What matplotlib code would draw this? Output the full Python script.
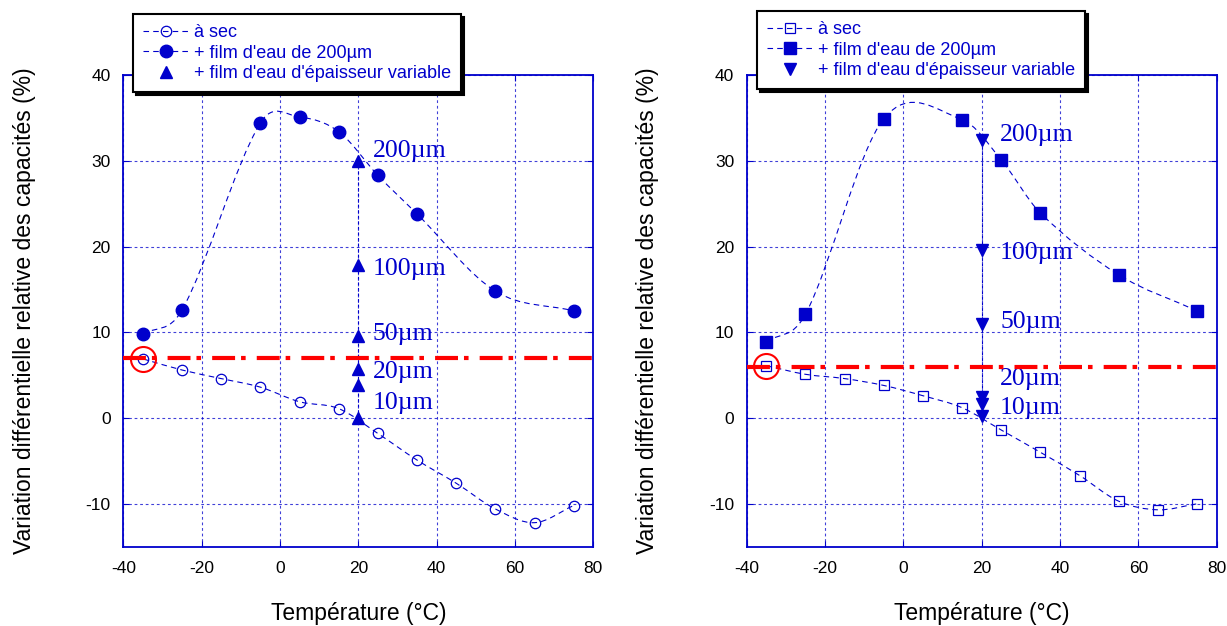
import numpy as np
import matplotlib
matplotlib.use('Agg')
import matplotlib.pyplot as plt
from matplotlib.path import Path
from matplotlib.patches import PathPatch
from matplotlib.lines import Line2D

plt.rcParams['font.family'] = ['Liberation Sans', 'DejaVu Sans']
plt.rcParams['lines.scale_dashes'] = False
plt.rcParams['axes.unicode_minus'] = False

BLUE = '#0000cc'

# --- données graphe de gauche (cercles / triangles vers le haut)
temp_sec_g = [-35, -25, -15, -5, 5, 15, 25, 35, 45, 55, 65, 75]
sec_g = [6.9, 5.6, 4.6, 3.6, 1.9, 1.1, -1.8, -4.9, -7.6, -10.6, -12.2, -10.2]
temp_film_g = [-35, -25, -5, 5, 15, 25, 35, 55, 75]
film_g = [9.8, 12.6, 34.4, 35.1, 33.4, 28.3, 23.8, 14.8, 12.5]
var_g = [0.0, 3.9, 5.7, 9.6, 17.8, 30.0]
seuil_g = 7.0
lbl_y_g = [1.8, 5.4, 9.8, 17.4, 31.1]

# --- données graphe de droite (carrés / triangles vers le bas)
temp_sec_d = [-35, -25, -15, -5, 5, 15, 25, 35, 45, 55, 65, 75]
sec_d = [6.1, 5.1, 4.6, 3.8, 2.6, 1.2, -1.4, -4.0, -6.7, -9.7, -10.7, -10.0]
temp_film_d = [-35, -25, -5, 15, 25, 35, 55, 75]
film_d = [8.9, 12.1, 34.9, 34.8, 30.1, 23.9, 16.7, 12.5]
var_d = [0.2, 1.6, 2.4, 11.0, 19.6, 32.4]
seuil_d = 6.0
lbl_y_d = [1.2, 4.5, 11.2, 19.2, 33.0]

t_var = 20
epaisseurs = ['10µm', '20µm', '50µm', '100µm', '200µm']
legendes = ['à sec', "+ film d'eau de 200µm", "+ film d'eau d'épaisseur variable"]


def courbe_lissee(x, y):
    # courbe lisse (bezier, type catmull-rom) passant par les points
    x = np.asarray(x, float)
    y = np.asarray(y, float)
    m = np.empty_like(y)
    m[1:-1] = (y[2:] - y[:-2]) / (x[2:] - x[:-2])
    m[0] = (y[1] - y[0]) / (x[1] - x[0])
    m[-1] = (y[-1] - y[-2]) / (x[-1] - x[-2])
    verts = [(x[0], y[0])]
    codes = [Path.MOVETO]
    for i in range(len(x) - 1):
        h = x[i + 1] - x[i]
        verts += [(x[i] + h / 3, y[i] + m[i] * h / 3),
                  (x[i + 1] - h / 3, y[i + 1] - m[i + 1] * h / 3),
                  (x[i + 1], y[i + 1])]
        codes += [Path.CURVE4] * 3
    return PathPatch(Path(verts, codes), fill=False, edgecolor=BLUE,
                     lw=0.8, ls=(0, (4, 3)), zorder=3)


def tracer(ax, t_sec, sec, t_film, film, var, seuil, lbl_y, mk, mk_var, lbl_x, leg_pos):
    ax.add_patch(courbe_lissee(t_sec, sec))
    ax.add_patch(courbe_lissee(t_film, film))
    ax.plot(t_sec, sec, ls='none', marker=mk, ms=7.5 if mk == 'o' else 7,
            mfc='none', mec=BLUE, mew=0.9, zorder=4)
    ax.plot(t_film, film, ls='none', marker=mk, ms=9, color=BLUE, zorder=4)
    ax.plot([t_var] * len(var), var, ls=(0, (2, 2)), lw=0.8, color=BLUE,
            marker=mk_var, ms=8, zorder=4)
    for s, yy in zip(epaisseurs, lbl_y):
        ax.text(lbl_x, yy, s, color=BLUE, fontsize=18.5, va='center',
                family=['Liberation Serif', 'DejaVu Serif'], zorder=5)
    ax.axhline(seuil, color='red', lw=3, ls=(0, (16.5, 4.3, 3.3, 8)), zorder=5)
    ax.plot(t_sec[0], sec[0], marker='o', ms=18, mfc='none', mec='red', mew=1.5, zorder=6)

    ax.set_xlim(-40, 80)
    ax.set_ylim(-15, 40)
    ax.set_xticks(range(-40, 81, 20))
    ax.set_yticks(range(-10, 41, 10))
    ax.set_axisbelow(True)
    ax.grid(True, color=BLUE, ls=(0, (2, 2)), lw=0.8, alpha=0.75)
    for sp in ax.spines.values():
        sp.set_color(BLUE)
        sp.set_linewidth(1.3)
    ax.tick_params(direction='in', length=4, color=BLUE, top=True, right=True,
                   labelsize=12.5)
    ax.tick_params(axis='x', pad=10)
    ax.tick_params(axis='y', pad=9)
    ax.set_xlabel('Température (°C)', fontsize=16.5, labelpad=19)
    ax.set_ylabel('Variation différentielle relative des capacités (%)', fontsize=16.5)
    ax.yaxis.set_label_coords(-0.186, 0.5)

    ls_leg = (0, (4, 3))
    poignees = [
        Line2D([], [], color=BLUE, lw=0.8, ls=ls_leg, marker=mk,
               ms=7.5 if mk == 'o' else 7, mfc='none', mec=BLUE, mew=0.9),
        Line2D([], [], color=BLUE, lw=0.8, ls=ls_leg, marker=mk, ms=9),
        Line2D([], [], color=BLUE, ls='none', marker=mk_var, ms=8),
    ]
    leg = ax.legend(poignees, legendes, loc='upper left', bbox_to_anchor=leg_pos,
                    bbox_transform=ax.figure.transFigure, borderaxespad=0,
                    fontsize=13, labelcolor=BLUE, frameon=True, fancybox=False,
                    framealpha=1, edgecolor='black', handlelength=2.6,
                    handletextpad=0.25, labelspacing=0.2, borderpad=0.55,
                    shadow={'facecolor': 'black', 'edgecolor': 'black', 'alpha': 1})
    leg.get_frame().set_linewidth(1.5)
    leg.set_zorder(10)


fig = plt.figure(figsize=(12.27, 6.26), dpi=100)
ax1 = fig.add_axes([0.1005, 0.1267, 0.383, 0.7535])
ax2 = fig.add_axes([0.6086, 0.1267, 0.383, 0.7535])

tracer(ax1, temp_sec_g, sec_g, temp_film_g, film_g, var_g, seuil_g, lbl_y_g,
       'o', '^', 23.7, (133 / 1227, 1 - 14 / 626))
tracer(ax2, temp_sec_d, sec_d, temp_film_d, film_d, var_d, seuil_d, lbl_y_d,
       's', 'v', 24.7, (757 / 1227, 1 - 11 / 626))

fig.savefig('out.png', dpi=100)
